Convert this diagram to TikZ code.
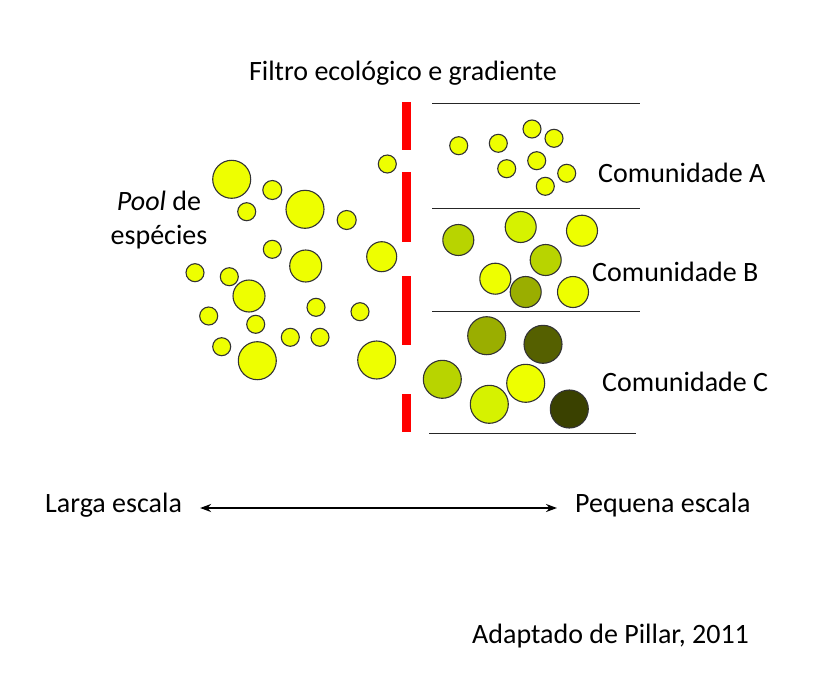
\documentclass[tikz,border=0pt]{standalone}
\usepackage{fontspec}
\setmainfont{Carlito}
\usepackage{xcolor}
\usetikzlibrary{arrows.meta, positioning}

\definecolor{spyel}{HTML}{EEFF00}
\definecolor{splime}{HTML}{D6F200}
\definecolor{spgreen}{HTML}{B8D400}
\definecolor{spolive}{HTML}{9AAE00}
\definecolor{spdark}{HTML}{556000}
\definecolor{spdeep}{HTML}{3A4100}
\definecolor{filtro}{HTML}{FF0000}

\begin{document}
\begin{tikzpicture}[
  x=1pt, y=-1pt,
  sp/.style={circle, draw=black!80, line width=1.1pt, inner sep=0pt, minimum size=#1, fill=spyel},
  sp/.default=18pt,
  lbl/.style={inner sep=0pt, font=\fontsize{28}{34}\selectfont},
  sep/.style={draw=black!85, line width=0.8pt},
]
\useasboundingbox (0,0) rectangle (829,677);

% titulo e filtro
\node[lbl] (filtro) at (403,73) {Filtro ecológico e gradiente};
\foreach \ya/\yb in {102/150, 172/242, 276/345, 394/432}
  \fill[filtro] (402,\ya) rectangle (411,\yb);

% pool de especies
\node[lbl, align=center] (pool) at (159,220) {\textit{Pool} de\\espécies};
\foreach \x/\y/\d [count=\i] in {
  231.7/179.3/38, 272.3/190/19, 246.7/211.7/18, 305/209.3/38, 346.7/220/19,
  387.3/164/18, 272.3/249.3/18, 305.7/266/32, 381.7/256.7/30, 195/272.7/18,
  229.3/276.7/18, 249/296/32, 316/307.3/18, 360/311.7/18, 208.7/316/18,
  255.7/324.3/18, 290.3/337.3/18, 320/337.3/18, 221.7/346.7/18,
  257.3/360.7/38, 376.7/360/38}
  \node[sp=\d pt] (p\i) at (\x,\y) {};

% comunidades
\draw[sep] (432,103) -- (640,103);
\draw[sep] (432,208) -- (640,208);
\draw[sep] (432,311) -- (640,311);
\draw[sep] (429,433) -- (636,433);

\foreach \x/\y [count=\i] in {458.7/145.7, 498.3/143.3, 532/129, 554/138.3,
  506.7/168.7, 536.7/160.7, 566.7/173.3, 545.3/186.3}
  \node[sp] (a\i) at (\x,\y) {};
\node[lbl, anchor=west] (comA) at (598,173) {Comunidade A};

\foreach \x/\y/\c [count=\i] in {458.3/240/spgreen, 520.7/227/splime,
  582/230.7/spyel, 545.7/260/spgreen, 495.3/278.7/spyel, 525.7/292/spolive,
  573/292/spyel}
  \node[sp=31pt, fill=\c] (b\i) at (\x,\y) {};
\node[lbl, anchor=west] (comB) at (592,272) {Comunidade B};

\foreach \x/\y/\c [count=\i] in {486.7/335.7/spolive, 543/344.3/spdark,
  442.3/379.3/spgreen, 525.7/383.3/spyel, 489.3/404.3/splime, 569.3/409/spdeep}
  \node[sp=38pt, fill=\c] (c\i) at (\x,\y) {};
\node[lbl, anchor=west] (comC) at (602,382) {Comunidade C};

% escala
\node[lbl, anchor=west] (larga) at (45,505) {Larga escala};
\node[lbl, anchor=west] (pequena) at (575,505) {Pequena escala};
\draw[{Stealth[length=11pt,width=8pt]}-{Stealth[length=11pt,width=8pt]}, line width=2.8pt,
  shorten <=18pt, shorten >=18pt] ([yshift=-3pt]larga.east) -- ([yshift=-3pt]pequena.west);

\node[lbl, anchor=west] (fonte) at (472,636) {Adaptado de Pillar, 2011};
\end{tikzpicture}
\end{document}
